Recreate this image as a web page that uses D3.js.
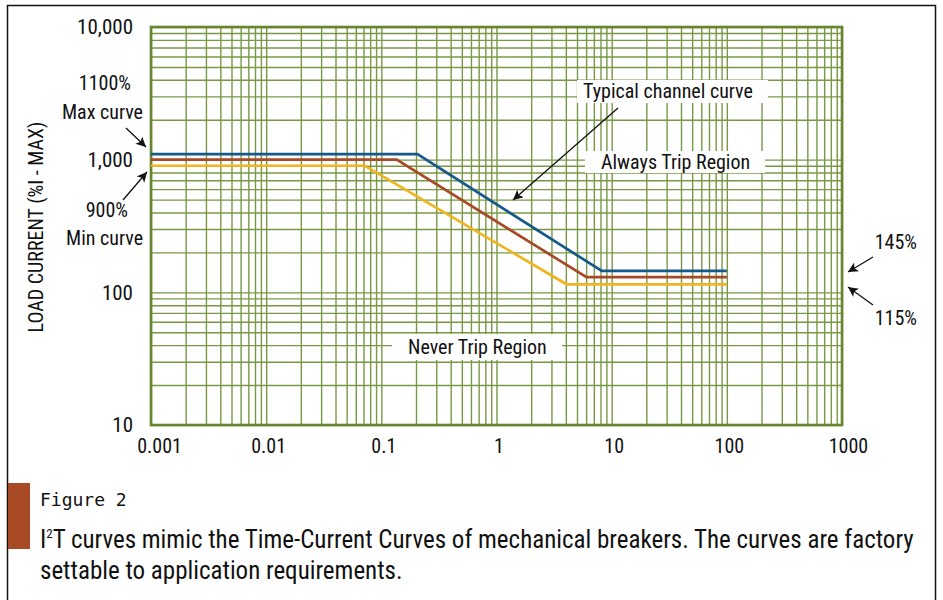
<!DOCTYPE html>
<html>
<head>
<meta charset="utf-8">
<script src="https://cdn.jsdelivr.net/npm/d3@7"></script>
<style>
  body { margin: 0; background: #fff; }
  svg text { font-family: "Liberation Sans Narrow", "Arial Narrow", "Roboto Condensed", "DejaVu Sans Condensed", sans-serif; fill: #111; }
  .mono { font-family: "DejaVu Sans Mono", monospace !important; }
</style>
</head>
<body>
<script>
// x: trip time (s), y: load current (% of max)
var xDomain = [0.001, 1000];
var yDomain = [10, 10000];
var xTickValues = [0.001, 0.01, 0.1, 1, 10, 100, 1000];
var xTickLabels = ['0.001', '0.01', '0.1', '1', '10', '100', '1000'];
var yTickValues = [10, 100, 1000, 10000];
var yTickLabels = ['10', '100', '1,000', '10,000'];

// three curves: max, typical, min
var curveNames = ['max', 'typical', 'min'];
var curveColors = ['#17598a', '#a84a28', '#f0b41e'];
var maxTime = [0.001, 0.206, 8.2, 100];
var maxLoad = [1100, 1100, 145, 145];
var typTime = [0.001, 0.136, 6.05, 100];
var typLoad = [1000, 1000, 130, 130];
var minTime = [0.001, 0.072, 4.06, 100];
var minLoad = [900, 900, 115, 115];

var curves = [
	{ name: 'max', t: maxTime, i: maxLoad },
	{ name: 'typical', t: typTime, i: typLoad },
	{ name: 'min', t: minTime, i: minLoad }
];

var W = 943, H = 600;
var plot = { left: 151, right: 842, top: 27, bottom: 425 };

var svg = d3.select('body').append('svg')
	.attr('width', W)
	.attr('height', H);

// outer frame (runs off the bottom of the picture)
svg.append('rect')
	.attr('x', 7.5).attr('y', 5.5)
	.attr('width', 928).attr('height', 640)
	.attr('fill', 'none')
	.attr('stroke', '#111')
	.attr('stroke-width', 1.5);

var x = d3.scaleLog().domain(xDomain).range([plot.left, plot.right]);
var y = d3.scaleLog().domain(yDomain).range([plot.bottom, plot.top]);

var gridColor = '#789845';

// grid - log scale gives 1..9 per decade
var gx = svg.append('g')
	.attr('transform', `translate(0, ${plot.bottom})`)
	.call(d3.axisBottom(x).ticks(20).tickSize(-(plot.bottom - plot.top)).tickFormat(''));
var gy = svg.append('g')
	.attr('transform', `translate(${plot.left}, 0)`)
	.call(d3.axisLeft(y).ticks(20).tickSize(-(plot.right - plot.left)).tickFormat(''));
[gx, gy].forEach(function(g) {
	g.select('.domain').remove();
	g.selectAll('line').attr('stroke', gridColor).attr('stroke-width', 1.4);
});

// plot border
svg.append('rect')
	.attr('x', plot.left).attr('y', plot.top)
	.attr('width', plot.right - plot.left)
	.attr('height', plot.bottom - plot.top)
	.attr('fill', 'none')
	.attr('stroke', '#66862f')
	.attr('stroke-width', 2.6);

// white label boxes sitting on the grid
function labelBox(x0, y0, w, h) {
	svg.append('rect').attr('x', x0).attr('y', y0).attr('width', w).attr('height', h).attr('fill', '#fff');
}
labelBox(577, 80, 191, 23);
labelBox(585, 151, 180, 22);
labelBox(392, 334, 170, 26);

// curves
var line = d3.line()
	.x(function(d) { return x(d[0]); })
	.y(function(d) { return y(d[1]); });

svg.selectAll('.curve')
	.data(curves)
	.enter().append('path')
	.attr('class', 'curve')
	.attr('d', function(c) { return line(d3.zip(c.t, c.i)); })
	.attr('fill', 'none')
	.attr('stroke', function(c, i) { return curveColors[i]; })
	.attr('stroke-width', 2.7)
	.attr('stroke-linejoin', 'miter');

// axes labels
var xAxis = svg.append('g')
	.attr('transform', `translate(0, ${plot.bottom})`)
	.call(d3.axisBottom(x).tickValues(xTickValues).tickSize(0).tickPadding(14)
		.tickFormat(function(d, i) { return xTickLabels[i]; }));
xAxis.select('.domain').remove();
xAxis.selectAll('text').attr('font-size', 20).attr('fill', '#111')
	.attr('dx', function(d, i) { return i === 0 ? 8 : (i === 6 ? 6 : 2); });

var yAxis = svg.append('g')
	.attr('transform', `translate(${plot.left}, 0)`)
	.call(d3.axisLeft(y).tickValues(yTickValues).tickSize(0).tickPadding(18)
		.tickFormat(function(d, i) { return yTickLabels[i]; }));
yAxis.select('.domain').remove();
yAxis.selectAll('text').attr('font-size', 21).attr('fill', '#111');

svg.append('text')
	.attr('transform', 'translate(36, 227) rotate(-90)')
	.attr('text-anchor', 'middle')
	.attr('dy', '0.35em')
	.attr('font-size', 20)
	.text('LOAD CURRENT (%I - MAX)');

// annotations
var defs = svg.append('defs');
defs.append('marker')
	.attr('id', 'arrow')
	.attr('viewBox', '0 0 10 10')
	.attr('refX', 10).attr('refY', 5)
	.attr('markerWidth', 12).attr('markerHeight', 10)
	.attr('markerUnits', 'userSpaceOnUse')
	.attr('orient', 'auto')
	.append('path').attr('d', 'M0,0 L10,5 L0,10 L2.5,5 Z').attr('fill', '#111');

function note(txt, tx, ty, anchor) {
	svg.append('text')
		.attr('x', tx).attr('y', ty)
		.attr('text-anchor', anchor || 'start')
		.attr('dy', '0.35em')
		.attr('font-size', 20)
		.text(txt);
}
function arrow(x1, y1, x2, y2) {
	svg.append('line')
		.attr('x1', x1).attr('y1', y1).attr('x2', x2).attr('y2', y2)
		.attr('stroke', '#111').attr('stroke-width', 1.3)
		.attr('marker-end', 'url(#arrow)');
}

note('1100%', 131, 83, 'end');
note('Max curve', 143, 112, 'end');
arrow(126, 128, 146, 147);
note('900%', 128, 210, 'end');
note('Min curve', 143, 238, 'end');
arrow(123, 200, 147, 172);

note('Typical channel curve', 583, 91);
arrow(618, 108, 513, 200);
note('Always Trip Region', 601, 162);
note('Never Trip Region', 408, 347);

note('145%', 917, 242, 'end');
arrow(873, 257, 848, 272);
note('115%', 917, 318, 'end');
arrow(873, 305, 848, 287);

// caption
svg.append('rect')
	.attr('x', 8).attr('y', 483)
	.attr('width', 22).attr('height', 66)
	.attr('fill', '#a84a26');

svg.append('text')
	.attr('class', 'mono')
	.attr('x', 40).attr('y', 506)
	.attr('font-size', 18)
	.attr('fill', '#1a1a1a')
	.text('Figure 2');

var cap = svg.append('text')
	.attr('x', 40).attr('y', 548)
	.attr('font-size', 25)
	.attr('fill', '#333');
cap.append('tspan').text('I');
cap.append('tspan').attr('font-size', 13).attr('dy', -10).text('2');
cap.append('tspan').attr('dy', 10).text('T curves mimic the Time-Current Curves of mechanical breakers. The curves are factory');

svg.append('text')
	.attr('x', 40).attr('y', 579)
	.attr('font-size', 25)
	.attr('fill', '#333')
	.text('settable to application requirements.');
</script>
</body>
</html>
